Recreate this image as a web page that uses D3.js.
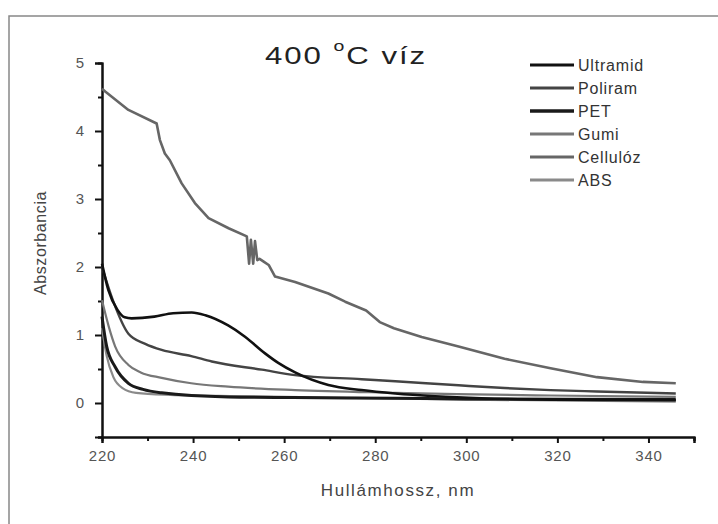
<!DOCTYPE html>
<html>
<head>
<meta charset="utf-8">
<script src="https://cdn.jsdelivr.net/npm/d3@7"></script>
<style>
  body { margin: 0; background: #fff; }
  svg { display: block; font-family: "Liberation Sans", Arial, sans-serif; }
  .tick text { fill: #555; font-size: 15px; letter-spacing: 0.8px; }
  .domain, .tick line { stroke: #111; stroke-width: 2; }
</style>
</head>
<body>
<div id="chart"></div>
<script>
// wavelength (nm) / absorbance pairs
var cellulozX = [220, 220.7, 225.8, 232, 232.7, 233.8, 234.9, 237.5, 240.4, 243.4, 247.8, 251.8, 252.3, 252.7, 253.2, 253.6, 254.1, 254.6, 255.5, 256.6, 258, 262.4, 269.7, 273.4, 278, 281, 284.1, 290.2, 298.3, 308.4, 318.5, 328.7, 338.8, 346];
var cellulozY = [4.62, 4.58, 4.31, 4.11, 3.87, 3.67, 3.57, 3.23, 2.94, 2.72, 2.57, 2.45, 2.05, 2.4, 2.05, 2.38, 2.1, 2.12, 2.08, 2.03, 1.86, 1.78, 1.61, 1.49, 1.36, 1.19, 1.1, 0.97, 0.83, 0.65, 0.51, 0.38, 0.31, 0.29];

var ultramidX = [220, 221.4, 223.4, 225, 226.5, 231.5, 235.6, 239.7, 242.7, 247.7, 251.4, 255.8, 258.7, 262.4, 269.7, 277, 284.4, 293.2, 303.3, 318.5, 346];
var ultramidY = [2.05, 1.66, 1.37, 1.26, 1.245, 1.27, 1.32, 1.33, 1.29, 1.14, 0.975, 0.73, 0.59, 0.45, 0.265, 0.19, 0.14, 0.1, 0.07, 0.05, 0.04];

var poliramX = [220, 222.4, 225.8, 229.5, 233.1, 239.6, 244.1, 255.1, 262.4, 277, 284.4, 298.3, 308.4, 318.5, 328.7, 346];
var poliramY = [2.0, 1.51, 1.02, 0.87, 0.78, 0.69, 0.61, 0.49, 0.41, 0.35, 0.32, 0.26, 0.22, 0.19, 0.17, 0.14];

var gumiX = [220, 221.5, 222.9, 225.8, 228.5, 233.1, 239.6, 247.7, 262.4, 284.4, 298, 318.5, 346];
var gumiY = [1.51, 1.12, 0.83, 0.56, 0.45, 0.37, 0.29, 0.24, 0.19, 0.15, 0.13, 0.11, 0.09];

var petX = [220, 221, 222.9, 225.8, 229, 233.1, 247.7, 262, 284.4, 300, 346];
var petY = [1.27, 0.84, 0.53, 0.29, 0.2, 0.15, 0.09, 0.08, 0.07, 0.06, 0.05];

var absX = [220, 221, 222.5, 224.5, 227.5, 235, 250, 270, 300, 346];
var absY = [1.1, 0.7, 0.38, 0.22, 0.15, 0.12, 0.1, 0.08, 0.05, 0.02];

var seriesNames = ["Ultramid", "Poliram", "PET", "Gumi", "Cellulóz", "ABS"];
var seriesColors = ["#111", "#444", "#1a1a1a", "#777", "#666", "#8a8a8a"];
var seriesWidths = [2.6, 2.4, 3, 2.2, 2.6, 2.2];

var xTicks = [220, 240, 260, 280, 300, 320, 340];
var yTicks = [0, 1, 2, 3, 4, 5];

var width = 718, height = 524;

var svg = d3.select("#chart").append("svg")
  .attr("width", width)
  .attr("height", height);

// outer frame
svg.append("rect")
  .attr("x", 9).attr("y", 16)
  .attr("width", 720).attr("height", 520)
  .attr("fill", "none")
  .attr("stroke", "#888")
  .attr("stroke-width", 1.5);

var x = d3.scaleLinear().domain([220, 350]).range([102, 694]);
var y = d3.scaleLinear().domain([-0.5, 5]).range([437, 63]);

// minor ticks first, majors on top
svg.append("g")
  .attr("transform", "translate(0,437)")
  .call(d3.axisBottom(x).tickValues(d3.range(230, 351, 20)).tickSize(4).tickFormat(""));
svg.append("g")
  .attr("transform", "translate(102,0)")
  .call(d3.axisLeft(y).tickValues([-0.5, 0.5, 1.5, 2.5, 3.5, 4.5]).tickSize(4).tickFormat(""));

svg.append("g")
  .attr("transform", "translate(0,437)")
  .call(d3.axisBottom(x).tickValues(xTicks.concat([350])).tickSize(6).tickPadding(7)
    .tickFormat(function(d) { return d === 350 ? "" : d; }));
svg.append("g")
  .attr("transform", "translate(102,0)")
  .call(d3.axisLeft(y).tickValues(yTicks).tickSize(7).tickPadding(10).tickFormat(d3.format("d")));

svg.selectAll(".domain").attr("stroke-width", 2.2);

var smooth = d3.line()
  .x(function(d) { return x(d[0]); })
  .y(function(d) { return y(d[1]); })
  .curve(d3.curveMonotoneX);
var jagged = d3.line()
  .x(function(d) { return x(d[0]); })
  .y(function(d) { return y(d[1]); });

var allSeries = [
  d3.zip(ultramidX, ultramidY),
  d3.zip(poliramX, poliramY),
  d3.zip(petX, petY),
  d3.zip(gumiX, gumiY),
  d3.zip(cellulozX, cellulozY),
  d3.zip(absX, absY)
];

var drawOrder = [4, 3, 5, 1, 2, 0];
svg.selectAll("path.series")
  .data(drawOrder)
  .enter().append("path")
  .attr("class", "series")
  .attr("d", function(i) { return i === 4 ? jagged(allSeries[i]) : smooth(allSeries[i]); })
  .attr("fill", "none")
  .attr("stroke", function(i) { return seriesColors[i]; })
  .attr("stroke-width", function(i) { return seriesWidths[i]; })
  .attr("stroke-linejoin", "round");

// title (stretched a bit sideways like the scan)
var title = svg.append("text")
  .attr("transform", "translate(265,64) scale(1.3,1)")
  .attr("font-size", 24)
  .attr("letter-spacing", 1.5)
  .attr("fill", "#222");
title.append("tspan").text("400 ");
title.append("tspan").text("o").attr("font-size", 15).attr("dy", -13);
title.append("tspan").text("C víz").attr("dy", 13);

// legend
var legend = svg.selectAll("g.legend")
  .data(seriesNames)
  .enter().append("g")
  .attr("class", "legend")
  .attr("transform", function(d, i) { return "translate(530," + (65 + i * 23) + ")"; });
legend.append("line")
  .attr("x1", 0).attr("x2", 44)
  .attr("stroke", function(d, i) { return seriesColors[i]; })
  .attr("stroke-width", function(d, i) { return seriesWidths[i] + 0.6; });
legend.append("text")
  .attr("x", 48).attr("dy", "0.36em")
  .attr("font-size", 16)
  .attr("letter-spacing", 0.8)
  .attr("fill", "#333")
  .text(function(d) { return d; });

// axis titles
svg.append("text")
  .attr("x", 398).attr("y", 496)
  .attr("text-anchor", "middle")
  .attr("font-size", 17)
  .attr("letter-spacing", 1.6)
  .attr("fill", "#444")
  .text("Hullámhossz, nm");

svg.append("text")
  .attr("transform", "translate(46,243) rotate(-90)")
  .attr("text-anchor", "middle")
  .attr("font-size", 16)
  .attr("letter-spacing", 0.6)
  .attr("fill", "#444")
  .text("Abszorbancia");
</script>
</body>
</html>
